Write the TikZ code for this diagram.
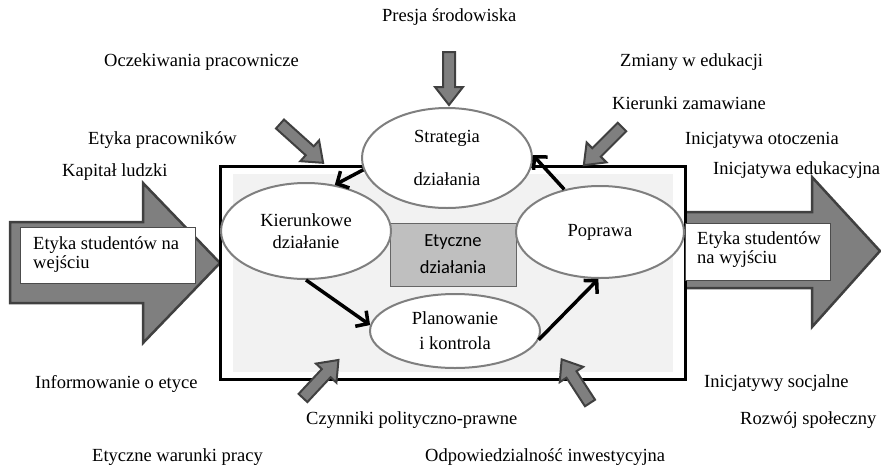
\documentclass[tikz,border=0pt]{standalone}
\usepackage{fontspec}
\setmainfont{Liberation Serif}
\newfontfamily\sansf{Carlito}
\usetikzlibrary{arrows.meta,shapes.geometric}
\definecolor{arrfill}{HTML}{7F7F7F}
\definecolor{arrline}{HTML}{404040}
\definecolor{inner}{HTML}{F2F2F2}
\definecolor{ellline}{HTML}{7F7F7F}
\definecolor{centerfill}{HTML}{BFBFBF}
\newcommand\blockarr[4]{% tail, angle, length, name
  \begin{scope}[shift={(#1)},rotate=#2]
    \draw[garrow] (0,-6) -- (#3-18,-6) -- (#3-18,-14) -- (#3,0) -- (#3-18,14) -- (#3-18,6) -- (0,6) -- cycle;
    \coordinate (#4) at (#3,0);
  \end{scope}}
\begin{document}
\begin{tikzpicture}[x=1pt,y=-1pt,
  lab/.style={font=\fontsize{18.5}{20}\selectfont, inner sep=0pt, anchor=west},
  garrow/.style={fill=arrfill, draw=arrline, line width=2pt, line join=miter},
  bigarrow/.style={fill=arrfill, draw=arrline, line width=2.5pt, line join=miter},
  ell/.style={ellipse, draw=ellline, line width=2pt, fill=white, inner sep=0pt, align=center,
     font=\fontsize{18.5}{20}\selectfont},
  flow/.style={line width=3.5pt, -{Straight Barb[length=9pt,width=19pt,line width=3.5pt]}},
  boxtext/.style={font=\fontsize{18.5}{19}\selectfont, align=left, inner sep=0pt, anchor=west}
  ]
\useasboundingbox (0,0) rectangle (881,464);

% big input / output arrows
\draw[bigarrow] (10,222) -- (143,222) -- (143,183) -- (220,263) -- (143,343) -- (143,303) -- (10,303) -- cycle;
\draw[bigarrow] (685,212) -- (812,212) -- (812,177) -- (880,251) -- (812,327) -- (812,288) -- (685,288) -- cycle;

% main box
\node[draw=black, line width=3pt, fill=white, minimum width=465pt, minimum height=213pt, inner sep=0pt] (mainbox) at (452.5,272.5) {};
\node[fill=inner, minimum width=440pt, minimum height=198pt, inner sep=0pt] (innerbox) at (453,273) {};

% input / output boxes
\node[fill=white, draw=black!70, line width=0.8pt, minimum width=175pt, minimum height=56pt, inner sep=0pt] (inbox) at (107.5,255) {};
\node[boxtext] (intext) at (33,255) {Etyka studentów na\\wejściu};
\node[fill=white, draw=black!70, line width=0.8pt, minimum width=145pt, minimum height=57pt, inner sep=0pt] (outbox) at (757.5,251.5) {};
\node[boxtext] (outtext) at (697,250) {Etyka studentów\\na wyjściu};

% centre box
\node[fill=centerfill, draw=black!60, line width=0.8pt, minimum width=126pt, minimum height=63pt, inner sep=0pt,
  align=center, font=\sansf\fontsize{18.5}{27}\selectfont] (etyczne) at (453,254.5) {Etyczne\\działania};

% ellipses
\node[ell, minimum width=170pt, minimum height=100pt] (strat) at (447,158) {Strategia\\[23pt]działania};
\node[ell, minimum width=170pt, minimum height=96pt] (kier) at (306,231) {Kierunkowe\\[2pt]działanie};
\node[ell, minimum width=168pt, minimum height=92pt] (pop) at (600,232) {Poprawa};
\node[ell, minimum width=170pt, minimum height=74pt] (plan) at (455,331) {Planowanie\\[5pt]i kontrola};

% cycle connectors
\draw[flow] (strat.188) -- (kier.58);
\draw[flow] (kier.-90) -- (plan.176);
\draw[flow] (plan.-6) -- (pop.-92);
\draw[flow] (pop.130) -- (strat.2);

% small pressure arrows
\blockarr{449,52}{-90}{53}{a1}
\blockarr{280,124}{-42}{58}{a2}
\blockarr{622,127}{-135}{54}{a3}
\blockarr{303,398}{47}{52}{a4}
\blockarr{590,403}{123}{52}{a5}

% labels
\node[lab] (l1) at (382,17) {Presja środowiska};
\node[lab] (l2) at (104,62) {Oczekiwania pracownicze};
\node[lab] (l3) at (620,62) {Zmiany w edukacji};
\node[lab] (l4) at (612,103) {Kierunki zamawiane};
\node[lab] (l5) at (88,140) {Etyka pracowników};
\node[lab] (l6) at (685,140) {Inicjatywa otoczenia};
\node[lab] (l7) at (62,172) {Kapitał ludzki};
\node[lab] (l8) at (713,170) {Inicjatywa edukacyjna};
\node[lab] (l9) at (35,384) {Informowanie o etyce};
\node[lab] (l10) at (704,383) {Inicjatywy socjalne};
\node[lab] (l11) at (306,420) {Czynniki polityczno-prawne};
\node[lab] (l12) at (740,420) {Rozwój społeczny};
\node[lab] (l13) at (92,457) {Etyczne warunki pracy};
\node[lab] (l14) at (425,457) {Odpowiedzialność inwestycyjna};
\end{tikzpicture}
\end{document}
